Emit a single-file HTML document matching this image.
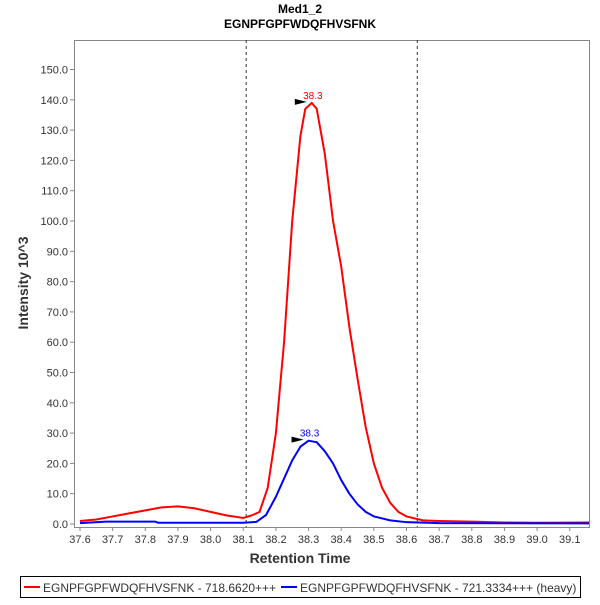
<!DOCTYPE html>
<html><head><meta charset="utf-8"><style>
body{margin:0;background:#fff;font-family:"Liberation Sans",sans-serif}
svg text{font-family:"Liberation Sans",sans-serif}
</style></head><body>
<svg width="600" height="600">
<defs><clipPath id="clip"><rect x="74" y="40" width="515" height="487"/></clipPath></defs>
<text x="300" y="13" text-anchor="middle" font-size="12" font-weight="bold">Med1_2</text>
<text x="300" y="28" text-anchor="middle" font-size="12" font-weight="bold">EGNPFGPFWDQFHVSFNK</text>
<g id="plot"></g>
<text x="300" y="563" text-anchor="middle" font-size="14" font-weight="bold" fill="#333">Retention Time</text>
<text transform="translate(28,283) rotate(-90)" text-anchor="middle" font-size="14" font-weight="bold" fill="#333">Intensity 10^3</text>
<g>
<rect x="20.5" y="576.5" width="560" height="21" fill="#fff" stroke="#000"/>
<line x1="24" y1="587" x2="40" y2="587" stroke="#f00" stroke-width="2"/>
<text x="43" y="592" font-size="12" fill="#333">EGNPFGPFWDQFHVSFNK - 718.6620+++</text>
<line x1="281" y1="587" x2="297" y2="587" stroke="#00f" stroke-width="2"/>
<text x="300" y="592" font-size="12" fill="#333">EGNPFGPFWDQFHVSFNK - 721.3334+++ (heavy)</text>
</g>
</svg>
<script>
const xTicks=[37.6,37.7,37.8,37.9,38.0,38.1,38.2,38.3,38.4,38.5,38.6,38.7,38.8,38.9,39.0,39.1];
const yTicks=[0,10,20,30,40,50,60,70,80,90,100,110,120,130,140,150];
const boundaries=[38.109,38.633];
const redT=[37.6,37.65,37.7,37.75,37.8,37.85,37.9,37.95,38.0,38.05,38.1,38.125,38.15,38.175,38.2,38.225,38.25,38.275,38.29,38.31,38.325,38.35,38.375,38.4,38.425,38.45,38.475,38.5,38.525,38.55,38.575,38.6,38.65,38.7,38.8,38.9,39.0,39.18];
const redV=[1.0,1.5,2.5,3.5,4.5,5.5,5.8,5.2,4.0,2.8,2.0,2.8,4.0,12,30,60,100,128,137,139,137,122,100,85,65,48,32,20,12,7,4,2.5,1.2,1.0,0.8,0.5,0.4,0.5];
const blueT=[37.6,37.68,37.83,37.84,38.1,38.14,38.17,38.2,38.225,38.25,38.275,38.3,38.325,38.35,38.375,38.4,38.425,38.45,38.475,38.5,38.55,38.6,38.7,39.18];
const blueV=[0.3,0.8,0.8,0.4,0.4,0.7,3,9,15,21,25.5,27.5,27,24,20,14.5,10,6.5,4,2.5,1.2,0.6,0.3,0.2];
const peaks=[{t:38.31,v:139,label:"38.3",c:"#f00"},{t:38.3,v:27.5,label:"38.3",c:"#00f"}];
const L=74,T=40,R=589,B=527;
const X=t=>80+(t-37.6)*326.5;
const Y=v=>524-v*3.03;
const NS="http://www.w3.org/2000/svg";
const g=document.getElementById('plot');
function mk(tag,attrs){const e=document.createElementNS(NS,tag);for(const k in attrs)e.setAttribute(k,attrs[k]);g.appendChild(e);return e;}
let e=mk('rect',{x:L+.5,y:T+.5,width:R-L,height:B-T,fill:'#fff',stroke:'#888'});


xTicks.forEach(t=>{const x=X(t);
 let l=mk('line',{x1:x,y1:B,x2:x,y2:B+4,stroke:'#888'});
 
 
 let s=mk('text',{x:x,y:B+16,'text-anchor':'middle','font-size':11,fill:'#333'});s.textContent=t.toFixed(1);
 
 });
yTicks.forEach(v=>{const y=Y(v);
 let l=mk('line',{x1:L-4,y1:y,x2:L,y2:y,stroke:'#888'});
 
 
 let s=mk('text',{x:L-6,y:y+4,'text-anchor':'end','font-size':11,fill:'#333'});s.textContent=v.toFixed(1);
 
 });
boundaries.forEach(t=>{let l=mk('line',{x1:X(t),y1:T,x2:X(t),y2:B,stroke:'#333','stroke-dasharray':'3,3'});
 
 });
function series(ts,vs,c,name){let p=mk('polyline',{points:ts.map((t,i)=>X(t)+','+Y(vs[i])).join(' '),fill:'none',stroke:c,'stroke-width':2,'stroke-linejoin':'round','clip-path':'url(#clip)'});
 
 }
series(redT,redV,'#f00','series-light');
series(blueT,blueV,'#00f','series-heavy');
peaks.forEach(p=>{const x=X(p.t),y=Y(p.v);
 let m=mk('polygon',{points:(x-17)+','+(y-4)+' '+(x-5)+','+(y-1)+' '+(x-17)+','+(y+2),fill:'#000'});
 
 
 let s=mk('text',{x:x+1,y:y-4,'text-anchor':'middle','font-size':10,fill:p.c});s.textContent=p.label;
 
 });
</script>
</body></html>
